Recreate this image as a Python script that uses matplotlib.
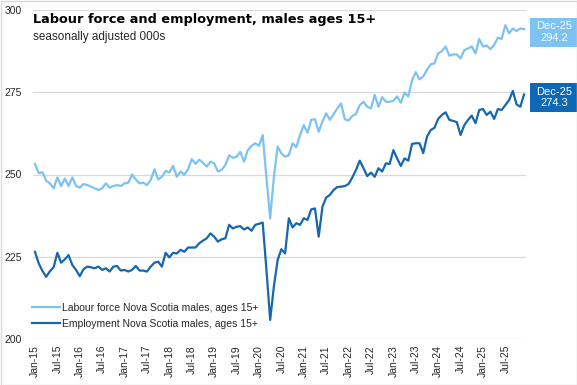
#!/usr/bin/python3
import matplotlib
matplotlib.use("Agg")
import matplotlib.pyplot as plt
from matplotlib.patches import Rectangle
from matplotlib.transforms import IdentityTransform

# monthly, Jan-15 .. Dec-25 (000s, seasonally adjusted)
LABOUR_FORCE = [
	253.2, 250.4, 250.7, 248.1, 247.3, 245.8, 249.1, 246.5, 248.8, 246.5, 249.1, 246.5,
	246.0, 247.1, 246.8, 246.3, 245.8, 245.3, 245.8, 247.3, 246.0, 246.5, 246.8, 246.5,
	247.3, 247.5, 250.0, 248.5, 247.3, 247.5, 246.8, 248.3, 251.6, 248.5, 249.3, 251.1,
	250.6, 252.6, 249.3, 250.9, 249.9, 251.6, 254.7, 253.2, 254.5, 253.6, 252.4, 253.9,
	253.4, 250.9, 251.4, 252.9, 255.8, 255.1, 255.4, 256.9, 253.9, 257.4, 258.7, 259.5,
	258.7, 262.0, 249.0, 236.7, 249.3, 258.5, 256.4, 255.4, 255.9, 259.5, 258.3, 262.0,
	265.0, 262.7, 266.6, 266.8, 263.0, 266.1, 268.6, 266.6, 268.4, 270.1, 271.6, 266.8,
	266.4, 267.8, 268.4, 271.1, 272.1, 270.6, 270.1, 274.2, 270.6, 273.5, 272.1, 272.1,
	272.4, 273.7, 271.8, 274.9, 273.7, 278.7, 281.1, 278.9, 279.8, 281.8, 283.5, 283.8,
	286.8, 287.5, 288.9, 286.1, 286.5, 286.5, 285.3, 287.8, 288.3, 288.9, 286.8, 291.2,
	288.9, 289.2, 288.1, 289.4, 291.6, 291.2, 295.4, 292.9, 294.4, 293.6, 294.4, 294.2,
]

EMPLOYMENT = [
	226.5, 223.0, 220.7, 218.9, 220.6, 221.8, 226.2, 223.2, 224.2, 225.5, 222.5, 221.0,
	219.1, 221.2, 222.0, 221.8, 221.5, 222.0, 221.0, 221.5, 220.5, 222.0, 222.2, 220.8,
	221.0, 220.5, 221.0, 222.2, 220.8, 220.8, 220.5, 222.0, 223.2, 223.5, 222.0, 226.2,
	224.8, 226.2, 226.0, 227.1, 226.5, 227.8, 227.8, 227.8, 229.1, 229.9, 230.6, 232.1,
	231.1, 229.6, 230.3, 230.6, 234.7, 233.6, 234.1, 234.3, 233.3, 233.9, 232.9, 234.7,
	235.0, 235.4, 221.0, 205.8, 216.0, 224.0, 227.3, 226.0, 236.7, 233.9, 235.2, 234.7,
	236.7, 236.2, 239.4, 239.7, 231.1, 240.2, 243.0, 243.8, 245.3, 246.2, 246.3, 246.5,
	247.1, 249.1, 251.4, 254.2, 251.9, 249.5, 250.6, 249.3, 251.9, 250.9, 253.4, 253.2,
	257.4, 254.9, 252.6, 254.9, 254.2, 259.3, 259.5, 259.5, 256.5, 261.5, 263.5, 264.2,
	266.9, 268.1, 268.9, 266.6, 266.3, 265.9, 262.0, 265.0, 266.6, 267.9, 265.6, 269.6,
	269.9, 268.1, 269.1, 266.9, 269.9, 269.6, 271.1, 272.6, 275.4, 271.3, 270.6, 274.3,
]

TICK_LABELS = ["Jan-15", "Jul-15", "Jan-16", "Jul-16", "Jan-17", "Jul-17", "Jan-18", "Jul-18",
			   "Jan-19", "Jul-19", "Jan-20", "Jul-20", "Jan-21", "Jul-21", "Jan-22", "Jul-22",
			   "Jan-23", "Jul-23", "Jan-24", "Jul-24", "Jan-25", "Jul-25"]
LAST_MONTH = "Dec-25"
Y_TICKS = [200, 225, 250, 275, 300]

LIGHT = "#7cc2f2"
DARK = "#1666b0"
DARK_BOX = "#0d68b8"
GRID = "#d9d9d9"
TEXT = "#262626"

W, H = 577, 385


def value_box(fig, ax, values, color):
	# data label to the right of the last point
	px, py = ax.transData.transform((len(values) - 1, values[-1]))
	bx, by = px + 6, py - 3
	fig.patches.append(Rectangle((bx, by - 14.5), 48, 29, transform=IdentityTransform(),
								 facecolor=color, edgecolor="none", zorder=5))
	fig.text((bx + 24) / W, by / H, "{}\n{:.1f}".format(LAST_MONTH, values[-1]),
			 ha="center", va="center", color="white", fontsize=8, linespacing=1.15, zorder=6)


def main():
	plt.rcParams["font.family"] = ["Liberation Sans", "DejaVu Sans"]

	fig = plt.figure(figsize=(W / 100, H / 100), dpi=100)
	ax = fig.add_axes([33.1 / W, 1 - 339 / H, (525.9 - 33.1) / W, (339 - 10) / H])

	x = range(len(LABOUR_FORCE))
	ax.plot(x, LABOUR_FORCE, color=LIGHT, lw=1.6, label="Labour force Nova Scotia males, ages 15+")
	ax.plot(x, EMPLOYMENT, color=DARK, lw=1.6, label="Employment Nova Scotia males, ages 15+")

	ax.set_xlim(-0.5, len(LABOUR_FORCE) - 0.5)
	ax.set_ylim(200, 300)
	ax.set_yticks(Y_TICKS)
	ax.set_xticks(range(0, len(LABOUR_FORCE), 6))
	ax.set_xticklabels(TICK_LABELS, rotation=90)
	ax.grid(axis="y", color=GRID, lw=0.9)
	ax.set_axisbelow(True)
	for s in ax.spines.values():
		s.set_visible(False)
	ax.tick_params(axis="both", length=0, labelsize=7.5, colors=TEXT)
	ax.tick_params(axis="y", pad=8)
	ax.tick_params(axis="x", pad=4.3)

	ax.legend(loc="center left", bbox_to_anchor=(32 / W, 1 - 316 / H), bbox_transform=fig.transFigure,
			  frameon=False, fontsize=7.5, borderpad=0, borderaxespad=0, handlelength=2.7,
			  handletextpad=0.2, labelspacing=0.55, labelcolor=TEXT)

	fig.text(33 / W, 1 - 23.3 / H, "Labour force and employment, males ages 15+", family="DejaVu Sans",
			 fontweight="bold", fontsize=9.3, color="black", va="baseline")
	fig.text(33 / W, 1 - 40 / H, "seasonally adjusted 000s",
			 fontsize=8.5, color=TEXT, va="baseline")

	value_box(fig, ax, LABOUR_FORCE, LIGHT)
	value_box(fig, ax, EMPLOYMENT, DARK_BOX)

	fig.patches.append(Rectangle((0.5, 0.5), W - 1, H - 1, transform=IdentityTransform(),
								 fill=False, edgecolor=GRID, lw=1, zorder=10))

	fig.savefig("out.png", dpi=100)


if __name__ == '__main__':
	main()
